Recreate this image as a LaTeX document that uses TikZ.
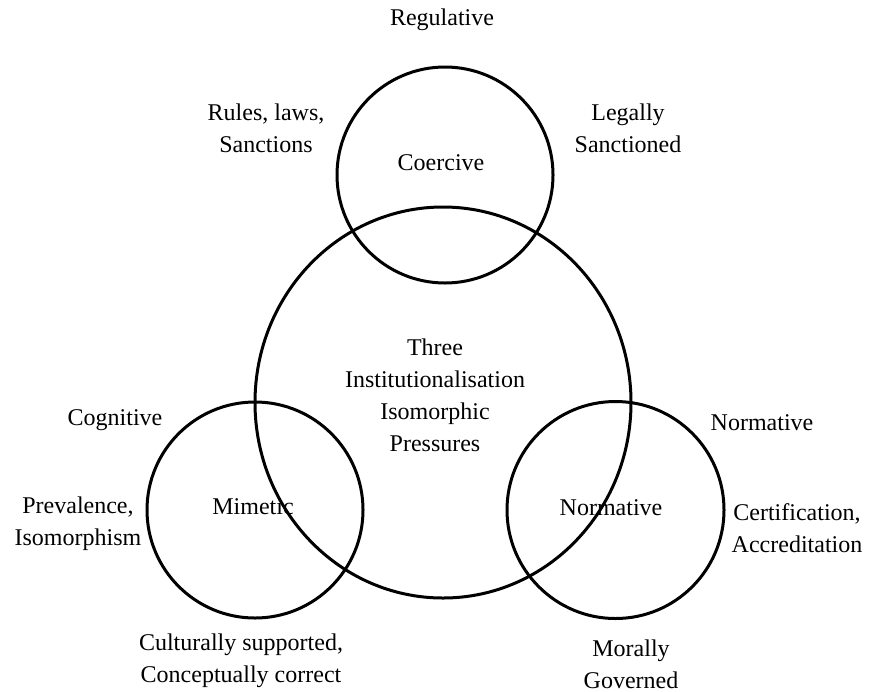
\documentclass[tikz,border=0pt]{standalone}
\usepackage{fontspec}
\setmainfont{Liberation Serif}
\usetikzlibrary{positioning,shapes.geometric}

\begin{document}
\begin{tikzpicture}[x=0.5pt, y=-0.5pt,
    ring/.style = {draw, circle, line width=1.5pt, minimum size=#1, inner sep=0pt},
    lbl/.style = {align=center, font=\fontsize{12}{16}\selectfont, inner sep=0pt}]%
    \useasboundingbox (0,0) rectangle (870,691);
    % the four circles
    \node[ring=108pt] (coer) at (445,175) {};
    \node[draw, ellipse, line width=1.5pt, minimum width=188pt, minimum height=195.5pt, inner sep=0pt] (three) at (443,402.5) {};
    \node[ring=108pt] (mim) at (255,510) {};
    \node[ring=108.5pt] (norm) at (615.5,510) {};
    % texts inside
    \node[lbl] (coerlbl) at (441,163) {Coercive};
    \node[lbl] (threelbl) at (435,395) {Three\\Institutionalisation\\Isomorphic\\Pressures};
    \node[lbl] (mimlbl) at (253,507) {Mimetic};
    \node[lbl] (normlbl) at (611,508) {Normative};
    % texts outside
    \node[lbl] (reg) at (442,20) {Regulative};
    \node[lbl] (rules) at (266,128) {Rules, laws,\\Sanctions};
    \node[lbl] (legal) at (628,128) {Legally\\Sanctioned};
    \node[lbl] (cogn) at (115,420) {Cognitive};
    \node[lbl] (preval) at (78,524) {Prevalence,\\Isomorphism};
    \node[lbl] (normt) at (762,423) {Normative};
    \node[lbl] (certif) at (797,528) {Certification,\\Accreditation};
    \node[lbl] (cult) at (241,661) {Culturally supported,\\Conceptually correct};
    \node[lbl] (moral) at (631,664) {Morally\\Governed};
\end{tikzpicture}
\end{document}
